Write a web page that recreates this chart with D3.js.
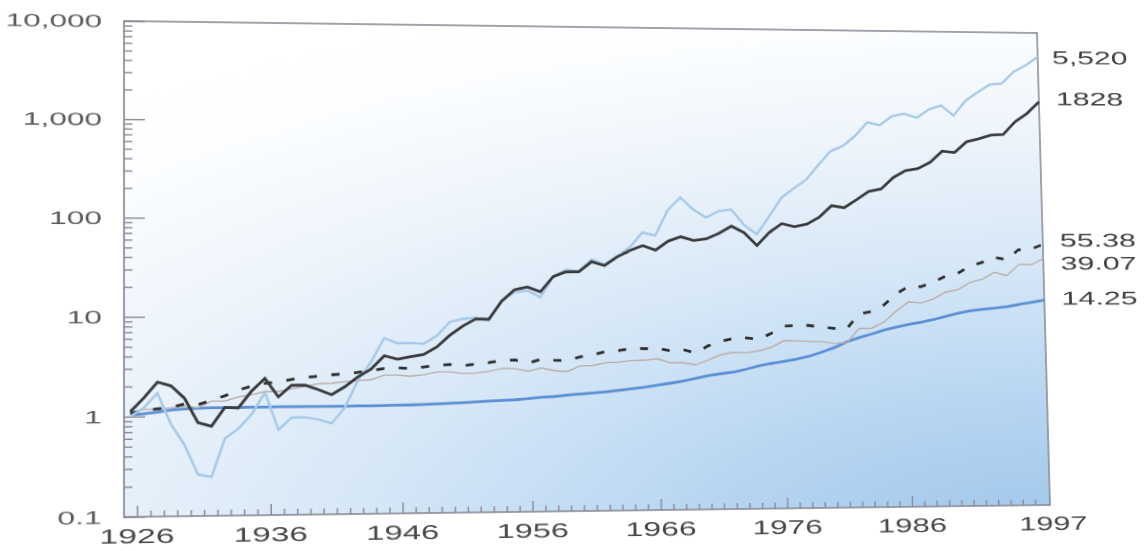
<!DOCTYPE html>
<html><head><meta charset="utf-8">
<script src="https://cdn.jsdelivr.net/npm/d3@7"></script>
<style>
html,body{margin:0;padding:0;background:#fff;overflow:hidden;}
svg{display:block;}
</style></head>
<body>
<svg id="chart" width="1147" height="551"></svg>
<script>
// ---------------- data (year-end wealth index, $1 invested end of 1925) ----------------
const years = d3.range(1926, 1998);
const smallStocks = [1.003,1.224,1.710,0.832,0.515,0.259,0.245,0.594,0.738,1.035,
  1.705,0.716,0.951,0.954,0.905,0.824,1.190,2.242,3.446,5.983,
  5.287,5.336,5.223,6.254,8.678,9.355,9.638,9.013,14.473,17.431,
  18.177,15.529,25.605,29.804,28.823,38.072,33.542,41.448,51.197,72.57,
  67.48,123.87,168.4,126.2,104.2,121.4,126.8,87.6,70.1,107.2,
  168.7,211.5,261.1,374.6,524.0,596.8,764.0,1067.0,995.8,1241.4,
  1326.4,1203.0,1478.1,1628.6,1277.5,1847.6,2279.0,2757.1,2842.8,3822.4,
  4495.9,5520];
const largeStocks = [1.116,1.535,2.204,2.018,1.516,0.859,0.789,1.214,1.197,1.767,
  2.367,1.538,2.016,2.008,1.812,1.602,1.927,2.427,2.906,3.965,
  3.645,3.853,4.065,4.829,6.360,7.888,9.336,9.244,14.108,18.561,
  19.778,17.646,25.298,28.322,28.455,36.106,32.954,40.469,47.139,53.008,
  47.674,59.104,65.642,60.059,62.465,71.406,84.956,72.500,53.311,73.144,
  90.584,84.077,89.592,106.113,140.514,133.616,162.223,198.745,211.199,279.117,
  330.671,347.967,406.458,534.455,517.499,675.592,727.412,800.078,810.538,1113.918,
  1370.946,1828];
const corpBonds = [1.074,1.154,1.187,1.225,1.323,1.299,1.439,1.588,1.808,1.982,
  2.115,2.174,2.307,2.398,2.480,2.548,2.614,2.688,2.815,2.930,
  2.980,2.911,3.031,3.132,3.198,3.112,3.221,3.331,3.511,3.527,
  3.287,3.573,3.494,3.460,3.774,3.956,4.270,4.364,4.572,4.551,
  4.560,4.334,4.446,4.086,4.837,5.370,5.760,5.825,5.647,6.474,
  7.681,7.813,7.807,7.481,7.274,7.184,10.241,10.882,12.717,16.544,
  19.828,19.774,21.890,25.443,27.168,32.572,35.630,40.330,38.007,48.345,
  49.022,55.38];
const govtBonds = [1.078,1.174,1.175,1.215,1.272,1.204,1.407,1.406,1.547,1.624,
  1.746,1.750,1.847,1.957,2.076,2.095,2.163,2.208,2.270,2.513,
  2.511,2.445,2.528,2.691,2.692,2.586,2.616,2.711,2.906,2.869,
  2.708,2.910,2.733,2.671,3.039,3.069,3.280,3.320,3.436,3.460,
  3.587,3.257,3.249,3.084,3.457,3.915,4.137,4.091,4.269,4.662,
  5.442,5.405,5.341,5.275,5.067,5.161,7.244,7.291,8.420,11.027,
  13.732,13.360,14.652,17.306,18.375,21.922,23.687,28.007,25.831,34.012,
  33.696,39.07];
const tBills = [1.033,1.065,1.103,1.155,1.183,1.196,1.207,1.211,1.213,1.215,
  1.217,1.221,1.221,1.221,1.221,1.222,1.225,1.229,1.233,1.237,
  1.242,1.248,1.258,1.272,1.287,1.306,1.328,1.352,1.364,1.385,
  1.419,1.464,1.486,1.530,1.571,1.604,1.648,1.700,1.760,1.829,
  1.916,1.997,2.101,2.239,2.385,2.490,2.585,2.764,2.986,3.159,
  3.319,3.489,3.740,4.128,4.592,5.267,5.822,6.335,6.959,7.496,
  7.958,8.393,8.926,9.673,10.429,11.012,11.398,11.728,12.186,12.868,
  13.538,14.25];
const endLabels = ["5,520","1828","55.38","39.07","14.25"];
const yTickValues = [0.1,1,10,100,1000,10000];
const yTickLabels = ["0.1","1","10","100","1,000","10,000"];
const xTickYears = [1926,1936,1946,1956,1966,1976,1986];
const lastYearLabel = "1997";

// ---------------- layout / style ----------------
const plot = {left:124, right:1044, top:21, bottom:517};
const svg = d3.select("#chart");
const x = d3.scaleLinear().domain([1926,1997]).range([130, plot.right]);
const xAxisScale = d3.scaleLinear().domain([1926,1986]).range([136.3, 901]);
const y = d3.scaleLog().domain([0.1,10000]).range([plot.bottom, plot.top]);
const font = "'Liberation Sans', Arial, Helvetica, sans-serif";
const frameColor = "#8a8a94";

const defs = svg.append("defs");
const grad = defs.append("radialGradient").attr("id","bg")
  .attr("gradientUnits","userSpaceOnUse")
  .attr("cx",0).attr("cy",0).attr("r",1)
  .attr("gradientTransform","translate(1060,570) scale(1450,610)");
[[0,"#9cc4ea"],[0.25,"#b5d4f1"],[0.5,"#d6e7f7"],[0.72,"#edf4fb"],[0.9,"#fbfdff"],[1,"#ffffff"]]
  .forEach(([o,c]) => grad.append("stop").attr("offset",o).attr("stop-color",c));

svg.append("rect").attr("x",plot.left).attr("y",plot.top)
  .attr("width",plot.right-plot.left).attr("height",plot.bottom-plot.top)
  .attr("fill","url(#bg)");

// y axis ticks (inward)
const minorY = [];
for (let e=-1;e<4;e++) for (let m=2;m<10;m++) minorY.push(m*Math.pow(10,e));
const gyMinor = svg.append("g").attr("transform",`translate(${plot.left},0)`)
  .call(d3.axisRight(y).tickValues(minorY).tickSize(8).tickFormat(""));
const gyMajor = svg.append("g").attr("transform",`translate(${plot.left},0)`)
  .call(d3.axisRight(y).tickValues(yTickValues).tickSize(20).tickFormat(""));
// x axis ticks (inward)
const minorX = d3.range(1926,1997).filter(v => !xTickYears.includes(v));
const gxMinor = svg.append("g").attr("transform",`translate(0,${plot.bottom})`)
  .call(d3.axisTop(xAxisScale).tickValues(minorX).tickSize(6).tickFormat(""));
const gxMajor = svg.append("g").attr("transform",`translate(0,${plot.bottom})`)
  .call(d3.axisTop(xAxisScale).tickValues(xTickYears).tickSize(11).tickFormat(""));
[gyMinor,gyMajor,gxMinor,gxMajor].forEach(g => {
  g.select(".domain").remove();
  g.selectAll(".tick line").attr("stroke",frameColor).attr("stroke-width",1.4);
});

// frame
svg.append("rect").attr("x",plot.left).attr("y",plot.top)
  .attr("width",plot.right-plot.left).attr("height",plot.bottom-plot.top)
  .attr("fill","none").attr("stroke",frameColor).attr("stroke-width",1.6);

// lines
const line = d3.line().x((d,i)=>x(years[i])).y(d=>y(d));
const series = [
  {data:tBills, color:"#5b8fd4", width:2.8},
  {data:govtBonds, color:"#b9ada6", width:1.4},
  {data:corpBonds, color:"#2e2e2e", width:2.8, dash:"8,14"},
  {data:smallStocks, color:"#a6c9ea", width:2.4},
  {data:largeStocks, color:"#3a3a3c", width:2.8}
];
series.forEach(s => {
  svg.append("path").datum(s.data).attr("d",line)
    .attr("fill","none").attr("stroke",s.color).attr("stroke-width",s.width)
    .attr("stroke-linejoin","miter").attr("stroke-dasharray",s.dash||null);
});

// stretched text helper
function label(txt, px, py, size, sx, anchor, color){
  svg.append("text").attr("transform",`translate(${px},${py}) scale(${sx},1)`)
    .attr("text-anchor",anchor).attr("font-family",font).attr("font-size",size)
    .attr("fill",color).text(txt);
}
yTickValues.forEach((v,i) => label(yTickLabels[i], 103, y(v)+6.5, 18, 1.67, "end", "#5a5a5a"));
xTickYears.forEach(v => label(String(v), xAxisScale(v), plot.bottom+26, 20, 1.6, "middle", "#474747"));
label(lastYearLabel, x(1997)+3, plot.bottom+26, 20, 1.6, "middle", "#474747");

const endSeries = [smallStocks, largeStocks, corpBonds, govtBonds, tBills];
const endDy = [0, -3.7, -4.7, 4.5, -2.2];
const endDx = [15, 18, 18, 18, 18];
endSeries.forEach((s,i) => {
  label(endLabels[i], x(1997)+endDx[i], y(s[s.length-1])+endDy[i]+7, 19.5, 1.65, "start", "#404040");
});

// ---------------- mimic the scanned page's slight perspective ----------------
function solveHomography(src, dst){
  const A=[], b=[];
  for (let i=0;i<4;i++){
    const [sx,sy]=src[i], [X,Y]=dst[i];
    A.push([sx,sy,1,0,0,0,-sx*X,-sy*X]); b.push(X);
    A.push([0,0,0,sx,sy,1,-sx*Y,-sy*Y]); b.push(Y);
  }
  const n=8;
  for (let c=0;c<n;c++){
    let p=c;
    for (let r=c+1;r<n;r++) if (Math.abs(A[r][c])>Math.abs(A[p][c])) p=r;
    [A[c],A[p]]=[A[p],A[c]]; [b[c],b[p]]=[b[p],b[c]];
    for (let r=0;r<n;r++){
      if (r===c) continue;
      const f=A[r][c]/A[c][c];
      for (let k=c;k<n;k++) A[r][k]-=f*A[c][k];
      b[r]-=f*b[c];
    }
  }
  return b.map((v,i)=>v/A[i][i]);
}
const srcQuad = [[plot.left,plot.top],[plot.right,plot.top],[plot.right,plot.bottom],[plot.left,plot.bottom]];
const dstQuad = [[124,21],[1037,33],[1050,505],[124,517]];
const h = solveHomography(srcQuad, dstQuad);
const el = document.getElementById("chart");
el.style.transformOrigin = "0 0";
el.style.transform = `matrix3d(${h[0]},${h[3]},0,${h[6]},${h[1]},${h[4]},0,${h[7]},0,0,1,0,${h[2]},${h[5]},0,1)`;
</script>
</body></html>
